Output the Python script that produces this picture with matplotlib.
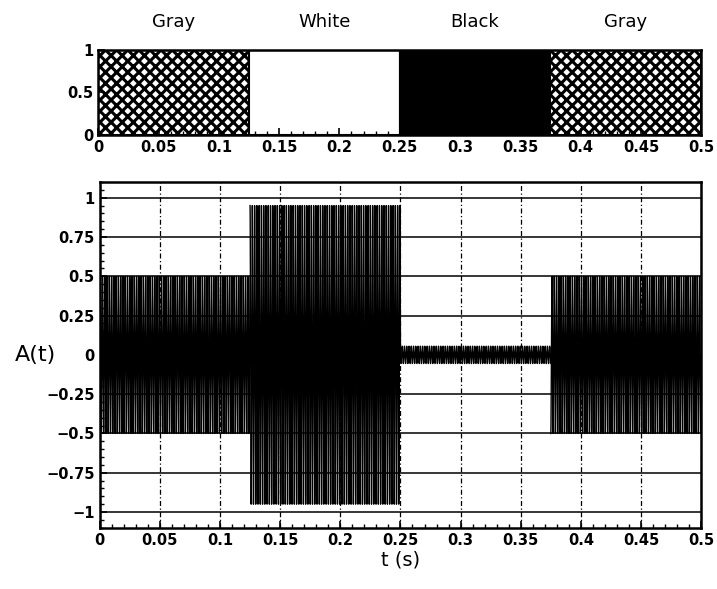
import numpy as np
import matplotlib
matplotlib.use("Agg")
import matplotlib.pyplot as plt
from matplotlib.ticker import MultipleLocator, FuncFormatter

# segment data
seg_labels = ["Gray", "White", "Black", "Gray"]
seg_start = [0.0, 0.125, 0.25, 0.375]
seg_end = [0.125, 0.25, 0.375, 0.5]
seg_amp = [0.5, 0.95, 0.055, 0.5]
seg_fill = ["hatch", "white", "black", "hatch"]
carrier_hz = 530  # tone frequency, dense stripes in the lower panel

xticks = [0, 0.05, 0.1, 0.15, 0.2, 0.25, 0.3, 0.35, 0.4, 0.45, 0.5]
yticks_top = [0, 0.5, 1]
yticks_bottom = [-1, -0.75, -0.5, -0.25, 0, 0.25, 0.5, 0.75, 1]

plt.rcParams["font.family"] = "DejaVu Sans"
plt.rcParams["font.weight"] = "bold"
plt.rcParams["hatch.linewidth"] = 2.2


def fmt(v, _pos=None):
    s = f"{v:g}"
    return s.replace("-", "\u2212")


fig = plt.figure(figsize=(7.17, 5.89), dpi=100)
ax_top = fig.add_axes([0.137, 0.771, 0.841, 0.144])
ax = fig.add_axes([0.139, 0.104, 0.839, 0.587])

# --- top panel: the stimulus patches ---
for lab, x0, x1, kind in zip(seg_labels, seg_start, seg_end, seg_fill):
    if kind == "hatch":
        ax_top.axvspan(x0, x1, facecolor="white", edgecolor="black",
                       hatch="xxx", lw=1.5)
    else:
        ax_top.axvspan(x0, x1, facecolor=kind, edgecolor="black", lw=1.5)
    ax_top.text((x0 + x1) / 2, 1.33, lab, transform=ax_top.get_xaxis_transform(),
                ha="center", va="center", fontsize=13, fontweight="normal")
ax_top.set_xlim(0, 0.5)
ax_top.set_ylim(0, 1)
ax_top.set_xticks(xticks)
ax_top.set_yticks(yticks_top)
ax_top.xaxis.set_major_formatter(FuncFormatter(fmt))
ax_top.yaxis.set_major_formatter(FuncFormatter(fmt))
ax_top.xaxis.set_minor_locator(MultipleLocator(0.01))
ax_top.tick_params(direction="in", length=5, width=1.2, labelsize=10.5)
ax_top.tick_params(which="minor", direction="in", length=3, width=1)
for sp in ax_top.spines.values():
    sp.set_linewidth(1.8)

# --- bottom panel: the amplitude-modulated tone ---
for x0, x1, a in zip(seg_start, seg_end, seg_amp):
    t = np.linspace(x0, x1, 8000)
    ax.plot(t, a * np.sin(2 * np.pi * carrier_hz * t), color="black", lw=1.0)
ax.set_xlim(0, 0.5)
ax.set_ylim(-1.1, 1.1)
ax.set_xticks(xticks)
ax.set_yticks(yticks_bottom)
ax.xaxis.set_major_formatter(FuncFormatter(fmt))
ax.yaxis.set_major_formatter(FuncFormatter(fmt))
ax.xaxis.set_minor_locator(MultipleLocator(0.01))
ax.yaxis.set_minor_locator(MultipleLocator(0.05))
ax.tick_params(direction="in", length=5, width=1.2, labelsize=10.5)
ax.tick_params(which="minor", direction="in", length=3, width=1)
ax.yaxis.grid(True, color="black", lw=1.1)
ax.xaxis.grid(True, color="black", lw=0.9, linestyle=(0, (4, 2, 1, 2)))
ax.set_axisbelow(True)
for sp in ax.spines.values():
    sp.set_linewidth(1.8)
ax.set_xlabel("t (s)", fontsize=14, labelpad=2, fontweight="normal")
ax.set_ylabel("A(t)", fontsize=16, rotation=0, labelpad=8, va="center",
              fontweight="normal")

fig.savefig("out.png", dpi=100)
